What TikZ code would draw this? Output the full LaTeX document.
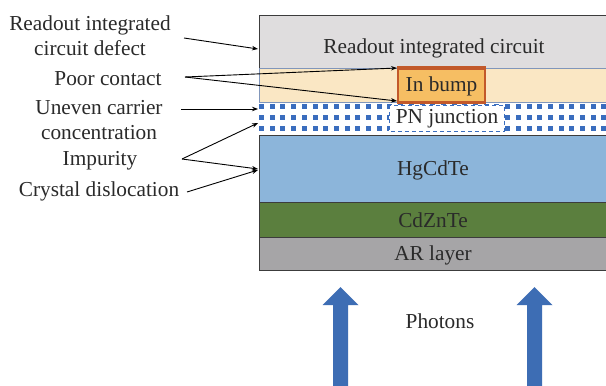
\documentclass[tikz,border=0pt]{standalone}
\usepackage{fontspec}
\setmainfont{Liberation Serif}
\newfontfamily\tms{Liberation Serif}
\usetikzlibrary{arrows.meta}
\definecolor{roicfill}{HTML}{DFDDDE}
\definecolor{bumplayer}{HTML}{FAE7C4}
\definecolor{thinblue}{HTML}{8196BA}
\definecolor{dotblue}{HTML}{3A6DBE}
\definecolor{hgfill}{HTML}{8CB5DA}
\definecolor{czfill}{HTML}{5B7F3E}
\definecolor{arfill}{HTML}{A6A5A7}
\definecolor{bumpfill}{HTML}{F6BE63}
\definecolor{bumpedge}{HTML}{C2592A}
\definecolor{photon}{HTML}{3D6DB4}
\definecolor{txt}{HTML}{2A2A2A}
\definecolor{edgegray}{HTML}{3C3C3C}
\tikzset{
  lbl/.style={font=\tms\fontsize{21.3}{25}\selectfont, text=txt, inner sep=0pt, align=center},
  edge/.style={draw=edgegray, line width=1pt},
  callout/.style={draw=black, line width=0.9pt, -{Stealth[length=6pt,width=4.5pt]}},
  photonarrow/.style={fill=photon}
}
\begin{document}
\begin{tikzpicture}[x=1pt,y=-1pt]
\useasboundingbox (0,0) rectangle (606,386);
\fill[white] (0,0) rectangle (606,386);
% readout layer
\fill[roicfill] (259,15) rectangle (607,68);
\draw[edge] (607,15) -- (259,15) -- (259,68);
% bump layer
\fill[bumplayer] (259,68) rectangle (607,102);
\draw[thinblue, line width=0.7pt] (607,68) -- (259,68) -- (259,102) -- (607,102);
% PN dots
\foreach \k in {0,...,32} {
  \foreach \r in {104,115,126} {
    \fill[dotblue] (259+10.7*\k,\r) rectangle ++(5,5);
  }
}
% semiconductor layers
\fill[hgfill] (259,135) rectangle (607,202);
\fill[czfill] (259,202) rectangle (607,237);
\fill[arfill] (259,237) rectangle (607,270);
\draw[edgegray, line width=0.6pt] (259,202) -- (607,202);
\draw[edge] (259,237) -- (607,237);
\draw[edge] (607,135) -- (259,135) -- (259,270) -- (607,270);
% bump
\fill[bumpfill] (398,67) rectangle (485,103);
\draw[bumpedge, line width=1.2pt] (398,67) rectangle (485,103);
\fill[bumpedge] (398,66) rectangle (485,69.5);
\fill[bumpedge] (398,100.5) rectangle (485,104);
% PN junction box
\draw[dotblue, fill=white, line width=0.9pt, dash pattern=on 4pt off 3pt] (389,105) rectangle (504,131);
% layer texts
\node[lbl] (roic) at (434,48.5) {Readout integrated circuit};
\node[lbl] (bump) at (441.5,86.5) {In bump};
\node[lbl] (pn) at (447,118.5) {PN junction};
\node[lbl] (hg) at (433,170.5) {HgCdTe};
\node[lbl] (cz) at (433,220.5) {CdZnTe};
\node[lbl] (ar) at (433,255.5) {AR layer};
\node[lbl] (ph) at (440,321.5) {Photons};
% left labels
\node[lbl] (l1) at (90,36) {Readout integrated\\circuit defect};
\node[lbl] (l2) at (108,79) {Poor contact};
\node[lbl] (l3) at (99,120) {Uneven carrier\\concentration};
\node[lbl] (l4) at (100,161) {Impurity};
\node[lbl] (l5) at (99,191.5) {Crystal dislocation};
% callout coordinates
\coordinate (s1) at (184,38);
\coordinate (e1) at (258,49);
\coordinate (s2) at (185,77);
\coordinate (e2a) at (397,68);
\coordinate (e2b) at (397,101);
\coordinate (s3) at (181,109);
\coordinate (e3) at (258,109);
\coordinate (s4) at (182,159);
\coordinate (e4a) at (258,123);
\coordinate (e4b) at (258,169);
\coordinate (s5) at (187,192);
\coordinate (e5) at (258,170);
\draw[callout] (s1) -- (e1);
\draw[callout] (s2) -- (e2a);
\draw[callout] (s2) -- (e2b);
\draw[callout] (s3) -- (e3);
\draw[callout] (s4) -- (e4a);
\draw[callout] (s4) -- (e4b);
\draw[callout] (s5) -- (e5);
% photon arrows
\fill[photonarrow] (333,387) -- (333,305) -- (322.5,305) -- (340.5,287) -- (358.5,305) -- (348,305) -- (348,387) -- cycle;
\fill[photonarrow] (527,387) -- (527,305) -- (516.5,305) -- (534.5,287) -- (552.5,305) -- (542,305) -- (542,387) -- cycle;
\end{tikzpicture}
\end{document}
